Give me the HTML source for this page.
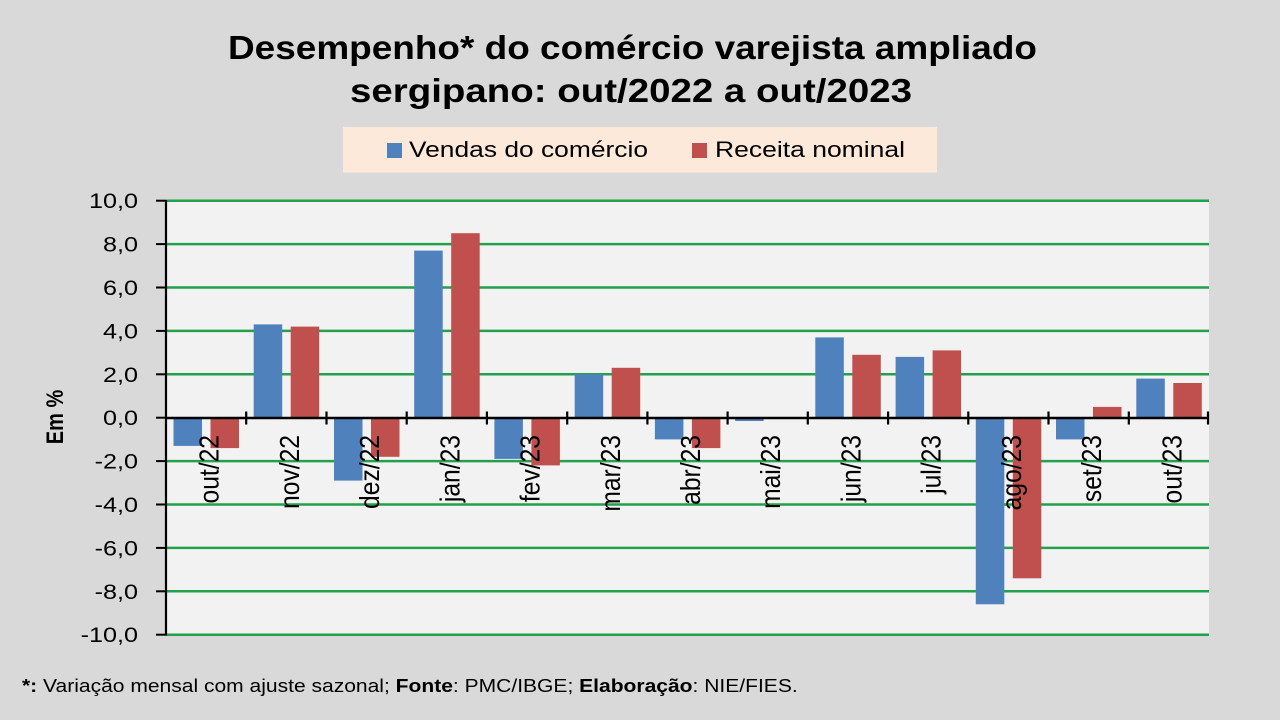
<!DOCTYPE html>
<html><head><meta charset="utf-8"><style>
html,body{margin:0;padding:0;background:#d9d9d9;}
svg{display:block;font-family:"Liberation Sans",sans-serif;}
</style></head><body>
<svg width="1280" height="720" viewBox="0 0 1280 720" xmlns="http://www.w3.org/2000/svg">
<rect x="0" y="0" width="1280" height="720" fill="#d9d9d9"/>
<!-- Title -->
<text x="632.5" y="59" text-anchor="middle" font-size="33" font-weight="bold" fill="#000" textLength="809" lengthAdjust="spacingAndGlyphs">Desempenho* do comércio varejista ampliado</text>
<text x="631" y="102" text-anchor="middle" font-size="33" font-weight="bold" fill="#000" textLength="562" lengthAdjust="spacingAndGlyphs">sergipano: out/2022 a out/2023</text>
<!-- Legend -->
<rect x="343" y="127" width="594" height="45.5" fill="#fce9da"/>
<rect x="387" y="143" width="15" height="15" fill="#4f81bd"/>
<text x="409" y="157" font-size="22" fill="#000" textLength="239" lengthAdjust="spacingAndGlyphs">Vendas do comércio</text>
<rect x="692" y="143" width="15" height="15" fill="#c0504d"/>
<text x="715" y="157" font-size="22" fill="#000" textLength="190" lengthAdjust="spacingAndGlyphs">Receita nominal</text>
<!-- Plot area -->
<rect x="166" y="200" width="1043" height="435" fill="#f2f2f2"/>
<g stroke="#23a04b" stroke-width="2.5">
<line x1="166" y1="200.7" x2="1209" y2="200.7"/>
<line x1="166" y1="244.1" x2="1209" y2="244.1"/>
<line x1="166" y1="287.5" x2="1209" y2="287.5"/>
<line x1="166" y1="330.9" x2="1209" y2="330.9"/>
<line x1="166" y1="374.3" x2="1209" y2="374.3"/>
<line x1="166" y1="461.1" x2="1209" y2="461.1"/>
<line x1="166" y1="504.5" x2="1209" y2="504.5"/>
<line x1="166" y1="547.9" x2="1209" y2="547.9"/>
<line x1="166" y1="591.3" x2="1209" y2="591.3"/>
<line x1="166" y1="634.7" x2="1209" y2="634.7"/>
</g>
<!-- Blue bars -->
<g fill="#4f81bd">
<rect x="173.5" y="417.7" width="28.5" height="28.2"/>
<rect x="253.7" y="324.4" width="28.5" height="93.3"/>
<rect x="334" y="417.7" width="28.5" height="62.9"/>
<rect x="414.2" y="250.6" width="28.5" height="167.1"/>
<rect x="494.4" y="417.7" width="28.5" height="41.2"/>
<rect x="574.7" y="374.3" width="28.5" height="43.4"/>
<rect x="654.9" y="417.7" width="28.5" height="21.7"/>
<rect x="735.1" y="417.7" width="28.5" height="3.3"/>
<rect x="815.3" y="337.4" width="28.5" height="80.3"/>
<rect x="895.6" y="356.9" width="28.5" height="60.8"/>
<rect x="975.8" y="417.7" width="28.5" height="186.6"/>
<rect x="1056" y="417.7" width="28.5" height="21.7"/>
<rect x="1136.3" y="378.6" width="28.5" height="39.1"/>
</g>
<!-- Red bars -->
<g fill="#c0504d">
<rect x="210.5" y="417.7" width="28.5" height="30.4"/>
<rect x="290.7" y="326.6" width="28.5" height="91.1"/>
<rect x="371" y="417.7" width="28.5" height="39.1"/>
<rect x="451.2" y="233.2" width="28.5" height="184.5"/>
<rect x="531.4" y="417.7" width="28.5" height="47.7"/>
<rect x="611.7" y="367.8" width="28.5" height="49.9"/>
<rect x="691.9" y="417.7" width="28.5" height="30.4"/>
<rect x="852.3" y="354.8" width="28.5" height="62.9"/>
<rect x="932.6" y="350.4" width="28.5" height="67.3"/>
<rect x="1012.8" y="417.7" width="28.5" height="160.6"/>
<rect x="1093" y="406.9" width="28.5" height="10.8"/>
<rect x="1173.3" y="383" width="28.5" height="34.7"/>
</g>
<!-- Axes -->
<line x1="166" y1="200" x2="166" y2="635.5" stroke="#000" stroke-width="2.2"/>
<g stroke="#000" stroke-width="2">
<line x1="156" y1="200.7" x2="166" y2="200.7"/>
<line x1="156" y1="244.1" x2="166" y2="244.1"/>
<line x1="156" y1="287.5" x2="166" y2="287.5"/>
<line x1="156" y1="330.9" x2="166" y2="330.9"/>
<line x1="156" y1="374.3" x2="166" y2="374.3"/>
<line x1="156" y1="417.7" x2="166" y2="417.7"/>
<line x1="156" y1="461.1" x2="166" y2="461.1"/>
<line x1="156" y1="504.5" x2="166" y2="504.5"/>
<line x1="156" y1="547.9" x2="166" y2="547.9"/>
<line x1="156" y1="591.3" x2="166" y2="591.3"/>
<line x1="156" y1="634.7" x2="166" y2="634.7"/>
</g>
<line x1="166" y1="418" x2="1209" y2="418" stroke="#000" stroke-width="2.5"/>
<g stroke="#000" stroke-width="2.2">
<line x1="246.2" y1="411.5" x2="246.2" y2="424.5"/>
<line x1="326.5" y1="411.5" x2="326.5" y2="424.5"/>
<line x1="406.7" y1="411.5" x2="406.7" y2="424.5"/>
<line x1="486.9" y1="411.5" x2="486.9" y2="424.5"/>
<line x1="567.2" y1="411.5" x2="567.2" y2="424.5"/>
<line x1="647.4" y1="411.5" x2="647.4" y2="424.5"/>
<line x1="727.6" y1="411.5" x2="727.6" y2="424.5"/>
<line x1="807.8" y1="411.5" x2="807.8" y2="424.5"/>
<line x1="888.1" y1="411.5" x2="888.1" y2="424.5"/>
<line x1="968.3" y1="411.5" x2="968.3" y2="424.5"/>
<line x1="1048.5" y1="411.5" x2="1048.5" y2="424.5"/>
<line x1="1128.8" y1="411.5" x2="1128.8" y2="424.5"/>
<line x1="1208" y1="411.5" x2="1208" y2="424.5"/>
</g>
<!-- Y labels -->
<g font-size="21" fill="#000" text-anchor="end">
<text transform="translate(138,208.2) scale(1.2,1)">10,0</text>
<text transform="translate(138,251.6) scale(1.2,1)">8,0</text>
<text transform="translate(138,295) scale(1.2,1)">6,0</text>
<text transform="translate(138,338.4) scale(1.2,1)">4,0</text>
<text transform="translate(138,381.8) scale(1.2,1)">2,0</text>
<text transform="translate(138,425.2) scale(1.2,1)">0,0</text>
<text transform="translate(138,468.6) scale(1.2,1)">-2,0</text>
<text transform="translate(138,512) scale(1.2,1)">-4,0</text>
<text transform="translate(138,555.4) scale(1.2,1)">-6,0</text>
<text transform="translate(138,598.8) scale(1.2,1)">-8,0</text>
<text transform="translate(138,642.2) scale(1.2,1)">-10,0</text>
</g>
<text transform="translate(63,417) rotate(-90) scale(1,1.2)" text-anchor="middle" font-size="20" font-weight="bold" fill="#000">Em %</text>
<!-- Category labels -->
<g font-size="22" fill="#000" text-anchor="end">
<text transform="translate(218.6,435) rotate(-90) scale(1.12,1.25)">out/22</text>
<text transform="translate(298.8,435) rotate(-90) scale(1.12,1.25)">nov/22</text>
<text transform="translate(379.1,435) rotate(-90) scale(1.12,1.25)">dez/22</text>
<text transform="translate(459.3,435) rotate(-90) scale(1.12,1.25)">jan/23</text>
<text transform="translate(539.5,435) rotate(-90) scale(1.12,1.25)">fev/23</text>
<text transform="translate(619.8,435) rotate(-90) scale(1.12,1.25)">mar/23</text>
<text transform="translate(700,435) rotate(-90) scale(1.12,1.25)">abr/23</text>
<text transform="translate(780.2,435) rotate(-90) scale(1.12,1.25)">mai/23</text>
<text transform="translate(860.4,435) rotate(-90) scale(1.12,1.25)">jun/23</text>
<text transform="translate(940.7,435) rotate(-90) scale(1.12,1.25)">jul/23</text>
<text transform="translate(1020.9,435) rotate(-90) scale(1.12,1.25)">ago/23</text>
<text transform="translate(1101.1,435) rotate(-90) scale(1.12,1.25)">set/23</text>
<text transform="translate(1181.4,435) rotate(-90) scale(1.12,1.25)">out/23</text>
</g>
<!-- Footer -->
<text transform="translate(22,692) scale(1.138,1)" font-size="18.5" fill="#000"><tspan font-weight="bold">*:</tspan> Variação mensal com ajuste sazonal; <tspan font-weight="bold">Fonte</tspan>: PMC/IBGE; <tspan font-weight="bold">Elaboração</tspan>: NIE/FIES.</text>
</svg>
</body></html>
